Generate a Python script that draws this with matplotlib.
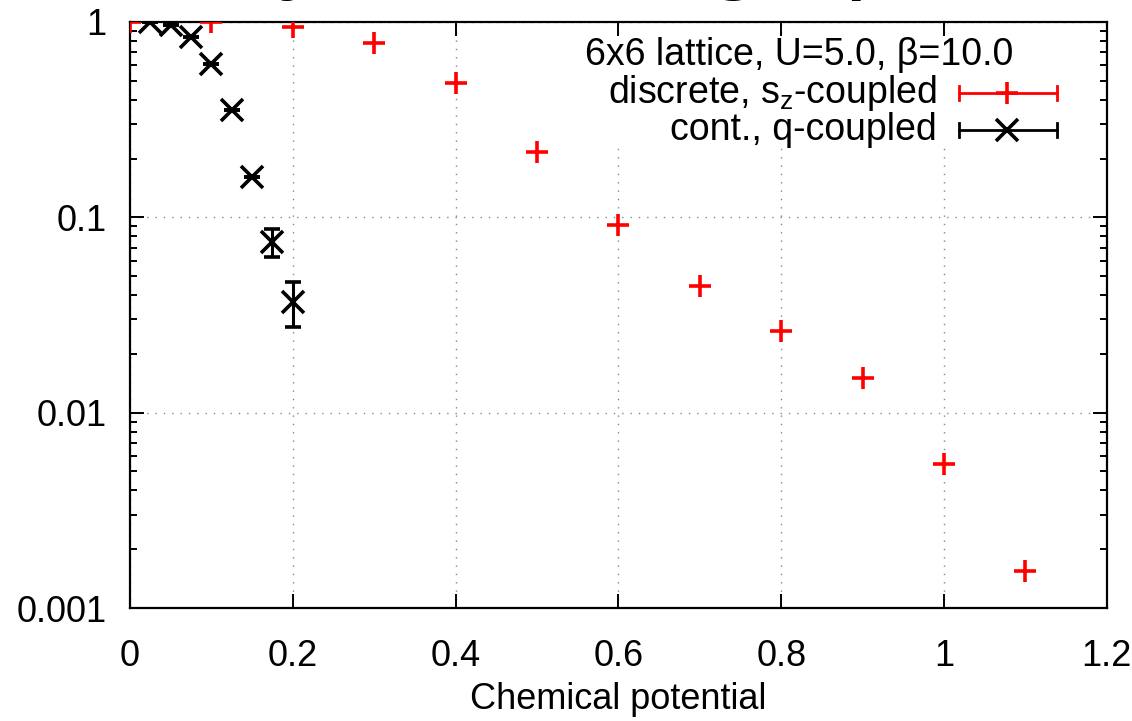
import numpy as np
import matplotlib
matplotlib.use("Agg")
import matplotlib.pyplot as plt
from matplotlib.ticker import FixedLocator, LogLocator, NullFormatter, FuncFormatter

plt.rcParams["font.family"] = ["Liberation Sans", "DejaVu Sans"]

# discrete, s_z-coupled
mu_disc = [0.0, 0.1, 0.2, 0.3, 0.4, 0.5, 0.6, 0.7, 0.8, 0.9, 1.0, 1.1]
sign_disc = [1.0, 1.0, 0.94, 0.78, 0.49, 0.216, 0.0914, 0.0445, 0.0262, 0.0150, 0.00546, 0.00155]

# cont., q-coupled
mu_cont = [0.025, 0.05, 0.075, 0.1, 0.125, 0.15, 0.175, 0.2]
sign_cont = [1.0, 0.97, 0.84, 0.61, 0.355, 0.161, 0.075, 0.037]
err_cont = [0.0, 0.0, 0.0, 0.0, 0.0, 0.0, 0.012, 0.0097]

x_ticks = [0, 0.2, 0.4, 0.6, 0.8, 1.0, 1.2]
y_ticks = [0.001, 0.01, 0.1, 1]

ROJO = "#ff0000"
NEGRO = "#000000"

fig = plt.figure(figsize=(11.32, 7.21), dpi=100)
ax = fig.add_axes([0.1148, 0.1567, 0.8630, 0.8128])

ax.errorbar(mu_disc, sign_disc, fmt="+", color=ROJO, markersize=16,
            markeredgewidth=2.6, zorder=4)
ax.errorbar(mu_cont, sign_cont, yerr=err_cont, fmt="x", color=NEGRO,
            markersize=16, markeredgewidth=2.6, elinewidth=2.2, capsize=5.5,
            capthick=2.2, zorder=4)

ax.set_yscale("log")
ax.set_xlim(0, 1.2)
ax.set_ylim(0.001, 1)

ax.xaxis.set_major_locator(FixedLocator(x_ticks))
ax.xaxis.set_major_formatter(FuncFormatter(lambda v, p: f"{v:g}"))
ax.yaxis.set_major_locator(FixedLocator(y_ticks))
ax.yaxis.set_major_formatter(FuncFormatter(lambda v, p: f"{v:g}"))
ax.yaxis.set_minor_locator(LogLocator(base=10, subs=np.arange(2, 10)))
ax.yaxis.set_minor_formatter(NullFormatter())

ax.tick_params(which="both", direction="in", top=True, right=True,
               labelsize=26, width=1.4, colors="black")
ax.tick_params(axis="y", which="major", length=10, pad=17)
ax.tick_params(axis="x", which="major", length=10, pad=22)
ax.tick_params(which="minor", length=5)

for lado in ax.spines.values():
    lado.set_linewidth(1.6)

ax.grid(which="major", color="#888888", linestyle=(0, (1, 5)), linewidth=1)
ax.set_axisbelow(True)

ax.set_xlabel("Chemical potential", fontsize=26, labelpad=6)

# titulo cortado arriba (solo se ven los descendentes)
fig.text(0.5186, 1.028, "Severity of the sign problem", fontsize=72,
         ha="center", va="baseline")

# leyenda estilo gnuplot
ax.add_patch(plt.Rectangle((0.44, 0.785), 0.525, 0.19, transform=ax.transAxes,
                           facecolor="white", edgecolor="none", zorder=2))
ax.text(0.904, 0.9437, "6x6 lattice, U=5.0, β=10.0", transform=ax.transAxes,
        ha="right", va="center", fontsize=27, zorder=3)
entradas = [
    ("discrete, s$_\\mathregular{z}$-coupled", ROJO, "+", 0.879),
    ("cont., q-coupled", NEGRO, "x", 0.816),
]
for texto, color, marca, yy in entradas:
    ax.text(0.826, yy, texto, transform=ax.transAxes, ha="right",
            va="center", fontsize=27, zorder=3)
    ax.plot([0.8485, 0.949], [yy, yy], transform=ax.transAxes, color=color,
            linewidth=2, zorder=3, clip_on=False)
    for xc in (0.8485, 0.949):
        ax.plot([xc, xc], [yy - 0.012, yy + 0.012], transform=ax.transAxes,
                color=color, linewidth=2, zorder=3)
    ax.plot([0.8977], [yy], transform=ax.transAxes, marker=marca,
            color=color, markersize=16, markeredgewidth=2.6, zorder=3)

fig.savefig("out.png", dpi=100)
